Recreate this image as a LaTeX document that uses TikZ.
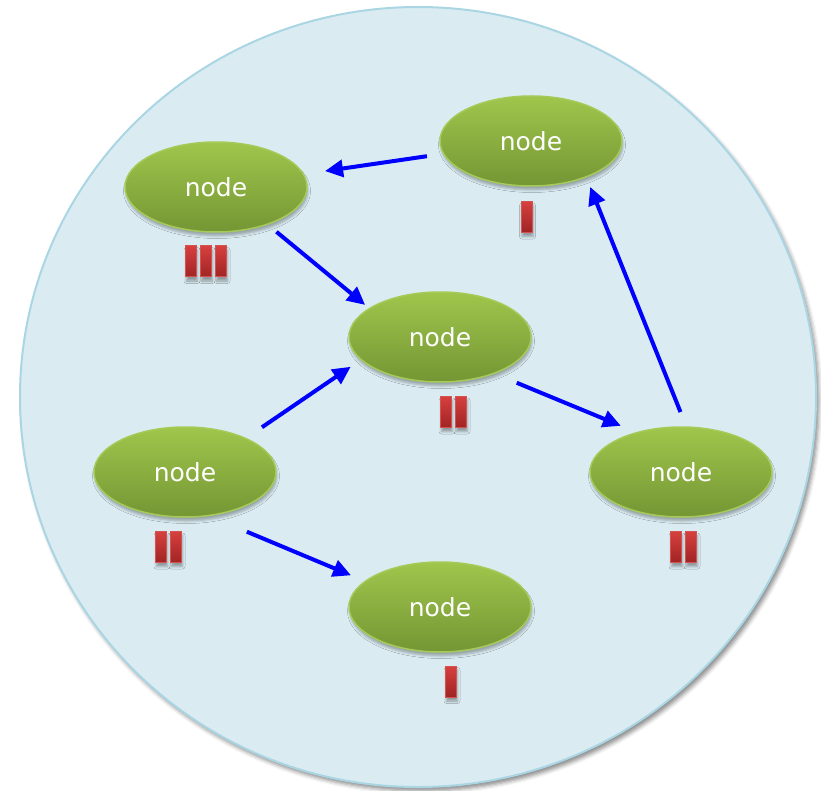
\documentclass[tikz,border=0pt]{standalone}
\usepackage{fontspec}
\setmainfont{DejaVu Sans}
\usetikzlibrary{shapes.geometric,arrows.meta,shadows.blur}

\definecolor{poolfill}{RGB}{218,236,242}
\definecolor{poolline}{RGB}{170,214,228}
\definecolor{leaftop}{RGB}{160,198,76}
\definecolor{leafbot}{RGB}{116,150,52}
\definecolor{leafline}{RGB}{165,202,88}
\definecolor{tokentop}{RGB}{214,64,62}
\definecolor{tokenbot}{RGB}{160,36,36}
\definecolor{tokenline}{RGB}{212,82,80}

\tikzset{
  pool/.style={ellipse, minimum width=796pt, minimum height=780pt, inner sep=0pt,
    fill=poolfill, draw=poolline, line width=2pt,
    blur shadow={shadow xshift=3pt, shadow yshift=-4pt, shadow blur radius=4pt, shadow opacity=45}},
  peer/.style={ellipse, minimum width=182pt, minimum height=90pt, inner sep=0pt, outer sep=0pt,
    top color=leaftop, bottom color=leafbot, draw=leafline, line width=1.5pt,
    text=white, font=\fontsize{25}{30}\selectfont,
    blur shadow={shadow xshift=1pt, shadow yshift=-4pt, shadow blur radius=2.5pt, shadow opacity=30}},
  token/.style={rectangle, minimum width=11pt, minimum height=31pt, inner sep=0pt,
    top color=tokentop, bottom color=tokenbot, draw=tokenline, line width=1pt,
    blur shadow={shadow xshift=1pt, shadow yshift=-4pt, shadow blur radius=2.5pt, shadow opacity=35}},
  link/.style={draw=blue, line width=4pt, -{Triangle[length=18pt,width=17pt]}},
}

\begin{document}
\begin{tikzpicture}[x=1pt, y=-1pt]
  \useasboundingbox (0,0) rectangle (821,791);

  % the shared space
  \node[pool] (pool) at (418,397) {};

  % peers
  \node[peer] (tl)  at (216,187) {\raisebox{-2pt}{node}};
  \node[peer] (tr)  at (531,141) {\raisebox{-2pt}{node}};
  \node[peer] (mid) at (440,337) {\raisebox{-2pt}{node}};
  \node[peer] (lf)  at (185,472) {\raisebox{-2pt}{node}};
  \node[peer] (rt)  at (681,472) {\raisebox{-2pt}{node}};
  \node[peer] (bt)  at (440,607) {\raisebox{-2pt}{node}};

  % tokens held by each peer
  \node[token] (tl1) at (191,261.5) {};
  \node[token] (tl2) at (206,261.5) {};
  \node[token] (tl3) at (221,261.5) {};
  \node[token] (tr1) at (526.5,217) {};
  \node[token] (mid1) at (446,412) {};
  \node[token] (mid2) at (461,412) {};
  \node[token] (lf1) at (161,547) {};
  \node[token] (lf2) at (176,547) {};
  \node[token] (rt1) at (676,547) {};
  \node[token] (rt2) at (691,547) {};
  \node[token] (bt1) at (451,681.5) {};

  % links between peers
  \draw[link, shorten <=17pt, shorten >=22pt] (tr) -- (tl);
  \draw[link, shorten <=12pt, shorten >=5.7pt] (tl.-36.4) -- (mid.158.1);
  \draw[link, shorten <=19.8pt, shorten >=12.8pt] (lf.29.7) -- (mid.196.3);
  \draw[link, shorten <=24.8pt, shorten >=17.7pt] (mid.-34.5) -- (rt.138.7);
  \draw[link, shorten <=16.2pt, shorten >=10.9pt] (rt.83.7) -- (tr.-33.1);
  \draw[link, shorten <=42pt, shorten >=15.5pt] (lf.-62.9) -- (bt.161.7);
\end{tikzpicture}
\end{document}
